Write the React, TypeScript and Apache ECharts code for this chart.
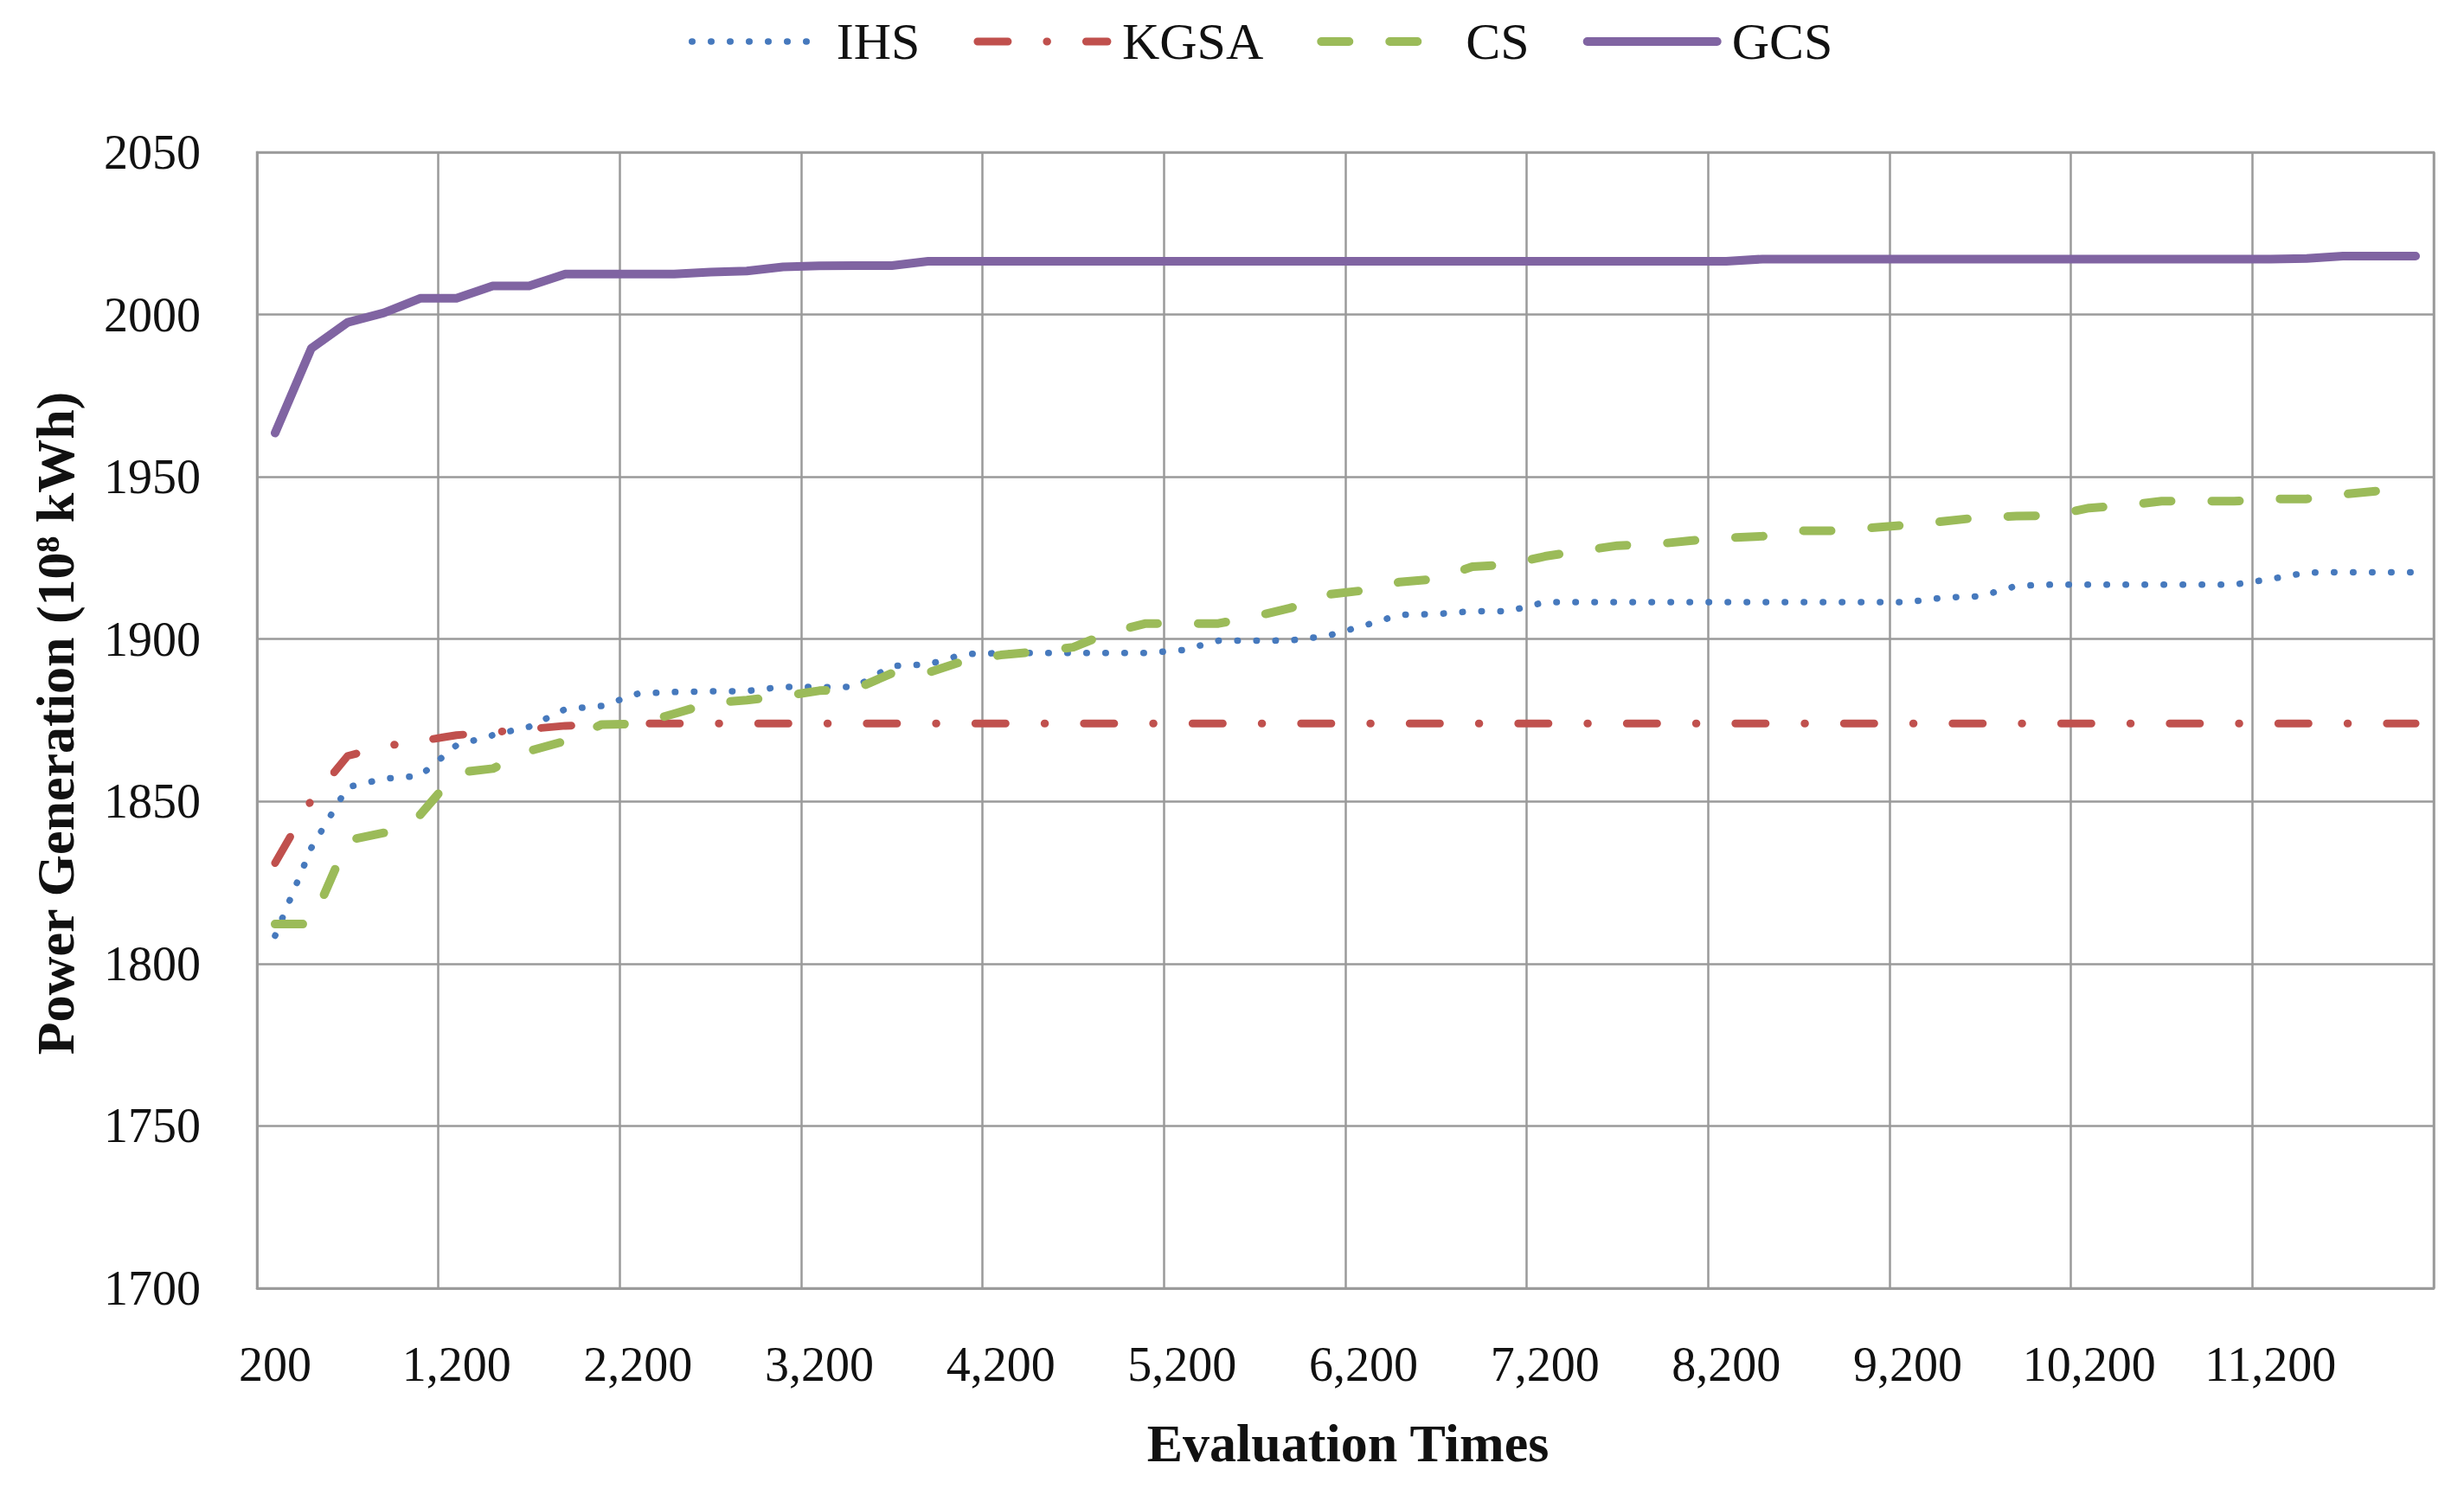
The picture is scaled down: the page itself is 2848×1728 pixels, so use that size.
import React, { useEffect, useRef } from 'react';
import * as echarts from 'echarts';

const categories: string[] = [
  '200', '400', '600', '800', '1,000', '1,200', '1,400', '1,600', '1,800', '2,000',
  '2,200', '2,400', '2,600', '2,800', '3,000', '3,200', '3,400', '3,600', '3,800', '4,000',
  '4,200', '4,400', '4,600', '4,800', '5,000', '5,200', '5,400', '5,600', '5,800', '6,000',
  '6,200', '6,400', '6,600', '6,800', '7,000', '7,200', '7,400', '7,600', '7,800', '8,000',
  '8,200', '8,400', '8,600', '8,800', '9,000', '9,200', '9,400', '9,600', '9,800', '10,000',
  '10,200', '10,400', '10,600', '10,800', '11,000', '11,200', '11,400', '11,600', '11,800', '12,000',
];

const seriesNames: string[] = ['IHS', 'KGSA', 'CS', 'GCS'];

const ihs: number[] = [
  1808.6, 1835.7, 1854.4, 1857.0, 1857.9, 1867.3, 1870.4, 1873.0, 1878.4, 1879.4,
  1883.2, 1883.7, 1883.9, 1884.0, 1885.3, 1885.2, 1885.3, 1891.7, 1892.2, 1895.4,
  1895.7, 1895.7, 1895.7, 1895.7, 1895.7, 1896.6, 1899.5, 1899.5, 1899.6, 1901.0,
  1904.1, 1907.5, 1907.7, 1908.6, 1908.6, 1911.4, 1911.4, 1911.4, 1911.4, 1911.4,
  1911.4, 1911.4, 1911.4, 1911.4, 1911.4, 1911.4, 1912.8, 1913.2, 1916.4, 1916.8,
  1916.8, 1916.8, 1916.8, 1916.8, 1916.8, 1918.5, 1920.5, 1920.6, 1920.6, 1920.6,
];

const kgsa: number[] = [
  1831.0, 1850.4, 1864.0, 1867.0, 1868.6, 1870.4, 1871.3, 1872.3, 1873.3, 1873.6,
  1874.0, 1874.0, 1874.0, 1874.0, 1874.0, 1874.0, 1874.0, 1874.0, 1874.0, 1874.0,
  1874.0, 1874.0, 1874.0, 1874.0, 1874.0, 1874.0, 1874.0, 1874.0, 1874.0, 1874.0,
  1874.0, 1874.0, 1874.0, 1874.0, 1874.0, 1874.0, 1874.0, 1874.0, 1874.0, 1874.0,
  1874.0, 1874.0, 1874.0, 1874.0, 1874.0, 1874.0, 1874.0, 1874.0, 1874.0, 1874.0,
  1874.0, 1874.0, 1874.0, 1874.0, 1874.0, 1874.0, 1874.0, 1874.0, 1874.0, 1874.0,
];

const cs: number[] = [
  1812.2, 1812.2, 1838.0, 1840.3, 1845.9, 1858.8, 1860.1, 1865.5, 1868.6, 1873.7,
  1873.9, 1877.0, 1880.3, 1881.2, 1882.4, 1884.1, 1884.6, 1889.5, 1889.7, 1893.3,
  1895.1, 1896.1, 1897.5, 1902.0, 1904.8, 1904.8, 1904.8, 1907.0, 1909.6, 1913.7,
  1915.0, 1917.6, 1918.5, 1922.3, 1923.0, 1925.5, 1927.2, 1928.8, 1929.2, 1930.3,
  1931.2, 1931.7, 1933.4, 1933.4, 1934.3, 1935.2, 1936.3, 1937.5, 1937.9, 1938.1,
  1940.4, 1941.2, 1942.5, 1942.5, 1942.5, 1943.2, 1943.2, 1944.6, 1945.7, 1946.3,
];

const gcs: number[] = [
  1963.5, 1989.6, 1997.6, 2000.5, 2005.0, 2005.0, 2008.8, 2008.8, 2012.5, 2012.5,
  2012.5, 2012.5, 2013.1, 2013.4, 2014.7, 2015.0, 2015.1, 2015.1, 2016.4, 2016.4,
  2016.4, 2016.4, 2016.4, 2016.4, 2016.4, 2016.4, 2016.4, 2016.4, 2016.4, 2016.4,
  2016.4, 2016.4, 2016.4, 2016.4, 2016.4, 2016.4, 2016.4, 2016.4, 2016.4, 2016.4,
  2016.4, 2017.1, 2017.1, 2017.1, 2017.1, 2017.1, 2017.1, 2017.1, 2017.1, 2017.1,
  2017.1, 2017.1, 2017.1, 2017.1, 2017.1, 2017.1, 2017.3, 2018.0, 2018.0, 2018.0,
];

const FONT = '"Liberation Serif", "DejaVu Serif", serif';
const GRID_COLOR = '#9a9a9a';
const TEXT_COLOR = '#111111';
const COLORS = ['#4679BD', '#C0504D', '#9BBB59', '#8064A2'];

export default function App() {
  const ref = useRef<HTMLDivElement>(null);

  useEffect(() => {
    if (!ref.current) return;
    const chart = echarts.init(ref.current, null, { renderer: 'svg' });
    chart.setOption({
      animation: false,
      backgroundColor: '#ffffff',
      legend: {
        data: seriesNames,
        left: 791,
        top: 13,
        itemWidth: 150,
        itemHeight: 20,
        itemGap: 62,
        itemStyle: { opacity: 0, color: 'rgba(0,0,0,0)', borderWidth: 0 },
        lineStyle: { width: 'inherit', type: 'inherit', cap: 'round' },
        textStyle: {
          fontFamily: FONT,
          fontSize: 60,
          color: TEXT_COLOR,
          padding: [0, 0, 0, 12],
        },
      },
      grid: {
        left: 297,
        top: 176,
        width: 2516,
        height: 1313,
        show: true,
        borderColor: GRID_COLOR,
        borderWidth: 2.5,
        backgroundColor: 'transparent',
      },
      xAxis: {
        type: 'category',
        data: categories,
        boundaryGap: true,
        axisLine: { show: true, lineStyle: { color: GRID_COLOR, width: 2.5 } },
        axisTick: { show: false, interval: 4 },
        axisLabel: {
          interval: 4,
          margin: 60,
          fontFamily: FONT,
          fontSize: 56,
          color: TEXT_COLOR,
        },
        splitLine: {
          show: true,
          interval: 4,
          lineStyle: { color: GRID_COLOR, width: 2.5 },
        },
      },
      yAxis: {
        type: 'value',
        min: 1700,
        max: 2050,
        interval: 50,
        axisLine: { show: true, lineStyle: { color: GRID_COLOR, width: 2.5 } },
        axisTick: { show: false },
        axisLabel: {
          margin: 65,
          fontFamily: FONT,
          fontSize: 56,
          color: TEXT_COLOR,
          formatter: (v: number) => String(v),
        },
        splitLine: { show: true, lineStyle: { color: GRID_COLOR, width: 2.5 } },
      },
      graphic: [
        {
          type: 'text',
          x: 1558,
          y: 1668,
          style: {
            text: 'Evaluation Times',
            fontFamily: FONT,
            fontSize: 62,
            fontWeight: 'bold',
            fill: TEXT_COLOR,
            align: 'center',
            verticalAlign: 'middle',
          },
        },
        {
          type: 'text',
          x: 64,
          y: 836,
          rotation: Math.PI / 2,
          style: {
            text: 'Power Generation (10⁸ kWh)',
            fontFamily: FONT,
            fontSize: 62,
            fontWeight: 'bold',
            fill: TEXT_COLOR,
            align: 'center',
            verticalAlign: 'middle',
          },
        },
      ],
      series: [
        {
          name: seriesNames[0],
          type: 'line',
          data: ihs,
          symbol: 'none',
          color: COLORS[0],
          lineStyle: { color: COLORS[0], width: 7.5, type: [0.5, 21.5], cap: 'round', join: 'round' },
        },
        {
          name: seriesNames[1],
          type: 'line',
          data: kgsa,
          symbol: 'none',
          color: COLORS[1],
          lineStyle: { color: COLORS[1], width: 9, type: [35, 45, 0.5, 45], cap: 'round', join: 'round' },
        },
        {
          name: seriesNames[2],
          type: 'line',
          data: cs,
          symbol: 'none',
          color: COLORS[2],
          lineStyle: { color: COLORS[2], width: 10, type: [32, 47], cap: 'round', join: 'round' },
        },
        {
          name: seriesNames[3],
          type: 'line',
          data: gcs,
          symbol: 'none',
          color: COLORS[3],
          lineStyle: { color: COLORS[3], width: 10, cap: 'round', join: 'round' },
        },
      ],
    });
    return () => chart.dispose();
  }, []);

  return (
    <div
      ref={ref}
      style={{ position: 'fixed', left: 0, top: 0, width: 2848, height: 1728, background: '#ffffff' }}
    />
  );
}
